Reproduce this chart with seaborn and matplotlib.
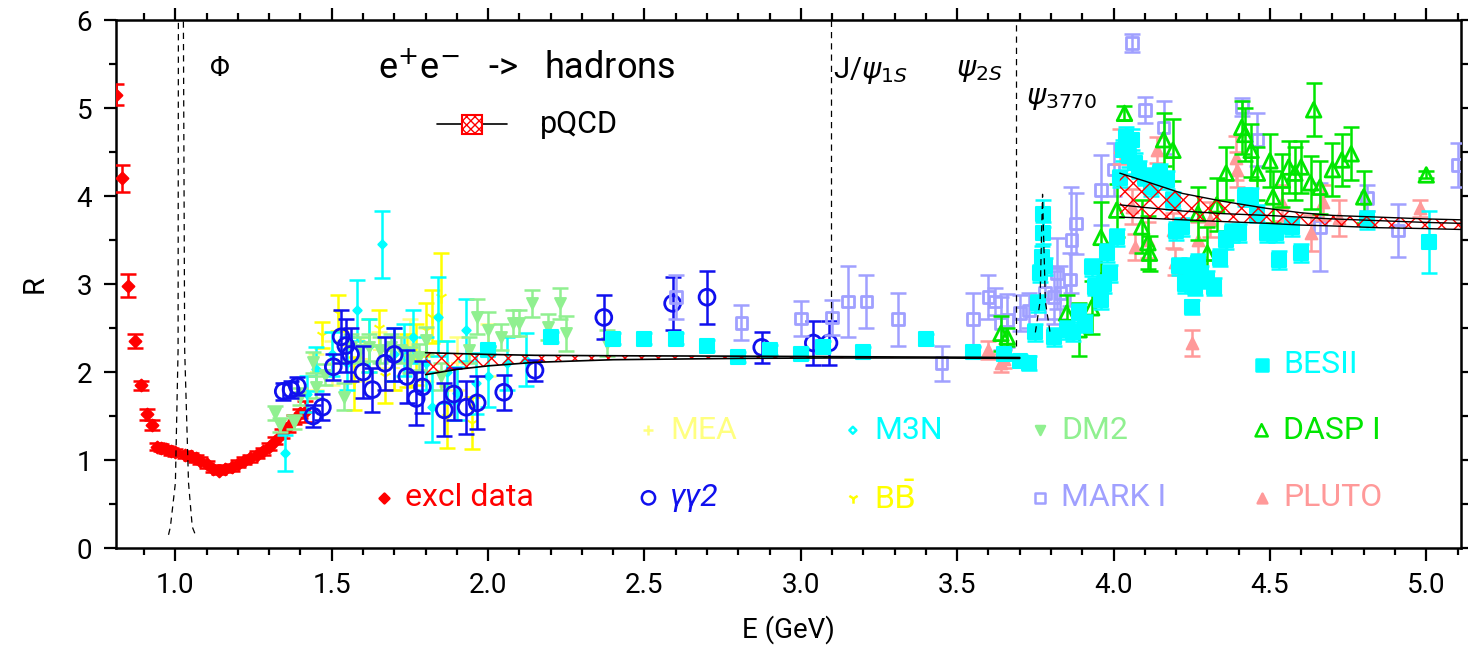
import matplotlib
matplotlib.use('Agg')
import matplotlib.pyplot as plt
from matplotlib.patches import Rectangle
import numpy as np
import pandas as pd
import seaborn as sns

# ---- data: (E [GeV], R, error) ----
excl_E = [0.81, 0.83, 0.85, 0.87, 0.89, 0.91, 0.925, 0.94, 0.955, 0.97, 0.985, 1.00, 1.03, 1.05,
          1.065, 1.08, 1.10, 1.12, 1.14, 1.16, 1.18, 1.20, 1.22, 1.24, 1.26, 1.28, 1.30, 1.32,
          1.34, 1.36, 1.38, 1.40, 1.415]
excl_R = [5.15, 4.20, 2.98, 2.35, 1.85, 1.52, 1.40, 1.15, 1.14, 1.12, 1.10, 1.09, 1.06, 1.04,
          1.02, 0.99, 0.95, 0.90, 0.88, 0.90, 0.92, 0.96, 0.99, 1.02, 1.06, 1.10, 1.15, 1.22,
          1.30, 1.37, 1.46, 1.53, 1.55]
excl_err = [0.12, 0.15, 0.13, 0.08, 0.05, 0.06, 0.06, 0.04, 0.04, 0.04, 0.04, 0.04, 0.04, 0.04,
            0.04, 0.04, 0.04, 0.04, 0.04, 0.04, 0.04, 0.04, 0.04, 0.04, 0.04, 0.04, 0.04, 0.04,
            0.05, 0.05, 0.05, 0.05, 0.12]

gg2_E = [1.345, 1.37, 1.39, 1.44, 1.47, 1.505, 1.53, 1.545, 1.56, 1.60, 1.63, 1.67, 1.70, 1.74,
         1.77, 1.79, 1.86, 1.89, 1.93, 1.965, 2.05, 2.15, 2.37, 2.59, 2.70, 2.875, 3.04, 3.09]
gg2_R = [1.78, 1.80, 1.84, 1.50, 1.60, 2.06, 2.40, 2.30, 2.20, 2.00, 1.80, 2.10, 2.20, 1.95,
         1.70, 1.83, 1.57, 1.75, 1.60, 1.65, 1.77, 2.02, 2.62, 2.78, 2.85, 2.28, 2.33, 2.33]
gg2_err = [0.10, 0.10, 0.10, 0.12, 0.15, 0.15, 0.30, 0.30, 0.30, 0.30, 0.25, 0.30, 0.30, 0.30,
           0.30, 0.30, 0.30, 0.30, 0.30, 0.30, 0.20, 0.12, 0.25, 0.30, 0.30, 0.18, 0.25, 0.25]

mea_E = [1.45, 1.50, 1.55, 1.60, 1.65, 1.70, 1.75, 1.80, 1.90, 2.00]
mea_R = [2.00, 2.10, 2.30, 2.15, 2.25, 2.05, 2.30, 2.20, 2.10, 2.25]
mea_err = [0.20, 0.25, 0.20, 0.25, 0.20, 0.25, 0.30, 0.30, 0.30, 0.30]

m3n_E = [1.35, 1.42, 1.45, 1.50, 1.55, 1.58, 1.62, 1.66, 1.70, 1.73, 1.76, 1.80, 1.82, 1.84,
         1.87, 1.90, 1.93, 1.96, 2.00, 2.06, 2.12]
m3n_R = [1.08, 1.75, 2.04, 2.20, 2.10, 2.70, 2.30, 3.45, 2.20, 2.25, 2.40, 2.10, 1.60, 2.63,
         2.00, 1.76, 2.48, 1.87, 1.95, 2.10, 2.14]
m3n_err = [0.20, 0.20, 0.25, 0.25, 0.30, 0.35, 0.30, 0.38, 0.30, 0.30, 0.30, 0.30, 0.40, 0.45,
           0.35, 0.30, 0.35, 0.35, 0.35, 0.30, 0.30]

bb_E = [1.47, 1.52, 1.57, 1.62, 1.65, 1.67, 1.70, 1.74, 1.77, 1.80, 1.82, 1.85, 1.87, 1.95]
bb_R = [2.42, 2.67, 1.87, 2.30, 2.50, 1.95, 2.10, 2.13, 2.20, 2.48, 2.63, 2.85, 1.49, 1.42]
bb_err = [0.15, 0.20, 0.30, 0.30, 0.20, 0.30, 0.30, 0.30, 0.35, 0.30, 0.30, 0.50, 0.35, 0.30]

dm2_E = [1.32, 1.335, 1.38, 1.40, 1.44, 1.45, 1.48, 1.54, 1.56, 1.59, 1.62, 1.655, 1.69, 1.72,
         1.75, 1.78, 1.80, 1.85, 1.94, 1.965, 2.00, 2.04, 2.08, 2.10, 2.14, 2.19, 2.23, 2.25, 2.38]
dm2_R = [1.53, 1.40, 1.43, 1.72, 2.11, 1.83, 1.97, 1.72, 2.28, 2.25, 2.28, 2.25, 2.28, 2.25,
         2.14, 2.17, 2.36, 1.95, 2.25, 2.63, 2.48, 2.40, 2.56, 2.56, 2.78, 2.51, 2.78, 2.44, 2.33]
dm2_err = [0.08, 0.08, 0.08, 0.10, 0.12, 0.12, 0.12, 0.15, 0.15, 0.15, 0.15, 0.15, 0.15, 0.15,
           0.15, 0.15, 0.15, 0.15, 0.15, 0.20, 0.20, 0.15, 0.15, 0.15, 0.15, 0.15, 0.18, 0.20, 0.15]

mark_E = [2.60, 2.81, 3.00, 3.10, 3.15, 3.21, 3.31, 3.45, 3.55, 3.60, 3.62, 3.64, 3.66, 3.70,
          3.73, 3.78, 3.81, 3.82, 3.83, 3.86, 3.865, 3.88, 3.96, 4.00, 4.06, 4.10, 4.16, 4.41,
          4.46, 4.66, 4.81, 4.91, 5.10]
mark_R = [2.85, 2.56, 2.61, 2.62, 2.80, 2.80, 2.60, 2.10, 2.60, 2.85, 2.80, 2.55, 2.59, 2.67,
          2.70, 2.90, 2.85, 3.12, 2.90, 3.05, 3.50, 3.69, 4.07, 4.30, 5.74, 4.98, 4.78, 5.01,
          4.64, 3.65, 3.98, 3.61, 4.35]
mark_err = [0.25, 0.20, 0.20, 0.20, 0.40, 0.30, 0.30, 0.20, 0.30, 0.25, 0.15, 0.30, 0.30, 0.20,
            0.20, 0.30, 0.30, 0.40, 0.30, 0.30, 0.60, 0.35, 0.40, 0.30, 0.10, 0.15, 0.30, 0.10,
            0.30, 0.50, 0.15, 0.30, 0.25]

pluto_E = [3.60, 3.64, 3.65, 4.02, 4.06, 4.07, 4.11, 4.14, 4.19, 4.195, 4.25, 4.27, 4.31, 4.39,
           4.395, 4.54, 4.63, 4.67, 4.72, 4.98]
pluto_R = [2.25, 2.10, 2.15, 4.56, 3.88, 3.42, 3.50, 4.52, 3.61, 3.25, 2.33, 3.50, 3.73, 4.43,
           4.30, 3.92, 3.58, 3.93, 3.75, 3.86]
pluto_err = [0.10, 0.10, 0.10, 0.20, 0.20, 0.15, 0.20, 0.15, 0.20, 0.15, 0.15, 0.20, 0.20, 0.25,
             0.20, 0.20, 0.20, 0.20, 0.20, 0.10]

dasp_E = [3.64, 3.66, 3.85, 3.89, 3.93, 3.96, 4.01, 4.035, 4.09, 4.11, 4.115, 4.16, 4.19, 4.27,
          4.30, 4.33, 4.36, 4.41, 4.42, 4.44, 4.46, 4.50, 4.51, 4.54, 4.56, 4.58, 4.60, 4.63,
          4.64, 4.66, 4.70, 4.73, 4.76, 4.80, 5.00]
dasp_R = [2.44, 2.40, 2.67, 2.48, 2.73, 3.53, 3.84, 4.94, 3.65, 3.47, 3.35, 4.64, 4.52, 3.80,
          3.35, 3.90, 4.26, 4.78, 4.70, 4.52, 4.26, 4.40, 3.99, 4.18, 4.33, 4.26, 4.33, 4.15,
          4.98, 4.10, 4.30, 4.41, 4.48, 3.99, 4.24]
dasp_err = [0.20, 0.10, 0.20, 0.30, 0.30, 0.40, 0.30, 0.08, 0.30, 0.30, 0.20, 0.30, 0.35, 0.30,
            0.30, 0.30, 0.30, 0.30, 0.30, 0.30, 0.30, 0.30, 0.30, 0.30, 0.30, 0.30, 0.30, 0.30,
            0.30, 0.30, 0.30, 0.30, 0.30, 0.30, 0.04]

bes_E = [2.00, 2.20, 2.40, 2.50, 2.60, 2.70, 2.80, 2.90, 3.00, 3.07, 3.20, 3.40, 3.55, 3.65,
         3.70, 3.73, 3.75, 3.76, 3.765, 3.77, 3.773, 3.775, 3.78, 3.81, 3.85, 3.87, 3.89, 3.91,
         3.93, 3.94, 3.96, 3.97, 3.98, 3.99, 4.01, 4.02, 4.03, 4.04, 4.05, 4.06, 4.07, 4.08,
         4.10, 4.12, 4.15, 4.17, 4.19, 4.20, 4.21, 4.22, 4.23, 4.24, 4.25, 4.255, 4.26, 4.27,
         4.28, 4.30, 4.32, 4.34, 4.36, 4.38, 4.40, 4.42, 4.44, 4.46, 4.49, 4.52, 4.53, 4.57,
         4.60, 4.81, 5.01]
bes_R = [2.25, 2.40, 2.38, 2.38, 2.38, 2.30, 2.17, 2.25, 2.21, 2.29, 2.23, 2.37, 2.23, 2.20,
         2.13, 2.10, 2.45, 2.78, 3.12, 3.31, 3.58, 3.80, 3.20, 2.40, 2.48, 2.45, 2.67, 2.55,
         3.19, 2.97, 2.82, 3.00, 3.35, 3.12, 3.53, 4.20, 4.52, 4.67, 4.45, 4.64, 4.37, 4.30,
         4.22, 4.10, 4.26, 4.18, 3.95, 3.60, 3.20, 3.65, 3.00, 3.20, 2.74, 3.13, 2.97, 3.24,
         3.10, 3.05, 2.97, 3.30, 3.50, 3.58, 3.58, 3.99, 3.99, 3.80, 3.58, 3.58, 3.27, 3.65,
         3.35, 3.73, 3.48]
bes_err = [0.05, 0.06, 0.06, 0.06, 0.06, 0.06, 0.06, 0.06, 0.06, 0.06, 0.06, 0.06, 0.06, 0.06,
           0.06, 0.08, 0.10, 0.10, 0.10, 0.12, 0.12, 0.15, 0.10, 0.10, 0.10, 0.10, 0.10, 0.10,
           0.10, 0.10, 0.10, 0.10, 0.10, 0.10, 0.10, 0.10, 0.12, 0.12, 0.12, 0.12, 0.12, 0.10,
           0.10, 0.10, 0.10, 0.10, 0.10, 0.10, 0.10, 0.10, 0.10, 0.10, 0.08, 0.10, 0.10, 0.10,
           0.10, 0.10, 0.10, 0.10, 0.10, 0.10, 0.10, 0.10, 0.10, 0.10, 0.10, 0.10, 0.10, 0.10,
           0.10, 0.10, 0.35]

# pQCD band (upper / central / lower edges)
pqcd1_E = [1.80, 1.90, 2.00, 2.15, 2.40, 2.80, 3.10, 3.40, 3.70]
pqcd1_hi = [2.22, 2.21, 2.20, 2.19, 2.185, 2.18, 2.175, 2.17, 2.165]
pqcd1_lo = [1.97, 2.03, 2.07, 2.11, 2.14, 2.155, 2.16, 2.16, 2.155]
pqcd2_E = [4.02, 4.10, 4.22, 4.35, 4.49, 4.60, 4.70, 4.85, 5.00, 5.11]
pqcd2_hi = [4.26, 4.17, 4.03, 3.94, 3.86, 3.81, 3.78, 3.76, 3.74, 3.73]
pqcd2_mid = [3.90, 3.87, 3.83, 3.80, 3.78, 3.76, 3.74, 3.72, 3.70, 3.69]
pqcd2_lo = [3.76, 3.75, 3.73, 3.71, 3.69, 3.67, 3.66, 3.64, 3.63, 3.62]

# narrow resonance curves (dashed)
phi_E = [0.978, 0.984, 1.000, 1.0086, 1.0096, 1.0105, 1.0250, 1.0256, 1.0297, 1.042, 1.054, 1.064]
phi_R = [0.15, 0.24, 0.74, 2.25, 6.0, 7.0, 7.0, 6.0, 2.25, 0.74, 0.24, 0.15]
jpsi_E = [3.096, 3.096]
jpsi_R = [2.60, 7.0]
psi2s_E = [3.687, 3.687]
psi2s_R = [2.30, 7.0]
psi3770_E = [3.750, 3.765, 3.770, 3.773, 3.776, 3.782, 3.797]
psi3770_R = [2.45, 2.80, 3.60, 4.02, 3.60, 2.80, 2.45]

series = [
    # label, E, R, err, colour, marker, size, filled
    ('excl data', excl_E, excl_R, excl_err, '#ff0000', 'D', 36, True),
    ('MEA', mea_E, mea_R, mea_err, '#ffff80', '+', 70, True),
    ('B\u0305B', bb_E, bb_R, bb_err, '#ffff00', '1', 80, True),
    ('M3N', m3n_E, m3n_R, m3n_err, '#00ffff', 'D', 18, True),
    ('DM2', dm2_E, dm2_R, dm2_err, '#90f090', 'v', 60, True),
    ('\u03b3\u03b32', gg2_E, gg2_R, gg2_err, '#1010ee', 'o', 130, False),
    ('MARK I', mark_E, mark_R, mark_err, '#a0a0ff', 's', 70, False),
    ('PLUTO', pluto_E, pluto_R, pluto_err, '#ff9999', '^', 70, True),
    ('DASP I', dasp_E, dasp_R, dasp_err, '#00e600', '^', 110, False),
    ('BESII', bes_E, bes_R, bes_err, '#00ffff', 's', 95, True),
]

sns.set_style('ticks')
plt.rcParams['font.family'] = ['Roboto', 'DejaVu Sans']
plt.rcParams['mathtext.fontset'] = 'dejavusans'
plt.rcParams['hatch.linewidth'] = 1.0
plt.rcParams['text.color'] = 'black'
plt.rcParams['axes.labelcolor'] = 'black'
plt.rcParams['xtick.color'] = 'black'
plt.rcParams['ytick.color'] = 'black'
plt.rcParams['axes.edgecolor'] = 'black'

fig = plt.figure(figsize=(14.68, 6.47), dpi=100)
ax = fig.add_axes([0.079, 0.153, 0.916, 0.816])

for i, (label, E, R, err, col, mk, sz, filled) in enumerate(series):
    df = pd.DataFrame({'E': E, 'R': R, 'err': err})
    z = 3 + i
    ax.errorbar(df.E, df.R, yerr=df.err, fmt='none', ecolor=col, elinewidth=1.8,
                capsize=6, capthick=1.8, zorder=z)
    if filled:
        sns.scatterplot(data=df, x='E', y='R', ax=ax, marker=mk, s=sz, color=col,
                        edgecolor=col, linewidth=1.5, zorder=z + 0.5, legend=False)
    else:
        sns.scatterplot(data=df, x='E', y='R', ax=ax, marker=mk, s=sz, facecolor='none',
                        edgecolor=col, linewidth=2.0, zorder=z + 0.5, legend=False)

# pQCD bands
ax.fill_between(pqcd1_E, pqcd1_lo, pqcd1_hi, facecolor='none', edgecolor='red',
                hatch='xx', linewidth=0, zorder=20)
ax.plot(pqcd1_E, pqcd1_hi, color='black', lw=1.2, zorder=21)
ax.plot(pqcd1_E, pqcd1_lo, color='black', lw=1.2, zorder=21)
ax.fill_between(pqcd2_E, pqcd2_lo, pqcd2_hi, facecolor='none', edgecolor='red',
                hatch='xx', linewidth=0, zorder=20)
for edge in (pqcd2_hi, pqcd2_mid, pqcd2_lo):
    ax.plot(pqcd2_E, edge, color='black', lw=1.0, zorder=21)

# resonance curves
for E, R in ((phi_E, phi_R), (jpsi_E, jpsi_R), (psi2s_E, psi2s_R), (psi3770_E, psi3770_R)):
    ax.plot(E, R, color='black', lw=0.9, ls=(0, (5, 4)), zorder=22)

# axes, ticks
ax.set_xlim(0.81, 5.11)
ax.set_ylim(0, 6)
ax.set_xticks(np.arange(1.0, 5.01, 0.5))
ax.set_xticks(np.arange(0.9, 5.11, 0.1), minor=True)
ax.set_yticks(range(0, 7))
ax.set_yticks(np.arange(0.5, 6, 1.0), minor=True)
ax.set_xticklabels(['1.0', '1.5', '2.0', '2.5', '3.0', '3.5', '4.0', '4.5', '5.0'])
ax.tick_params(which='both', direction='out', top=True, right=True, width=1.6,
               labelsize=20, pad=8)
ax.tick_params(which='major', length=9)
ax.tick_params(which='minor', length=5)
for sp in ax.spines.values():
    sp.set_linewidth(1.8)
    sp.set_visible(True)
ax.set_xlabel('E (GeV)', fontsize=20, labelpad=12)
ax.set_ylabel('R', fontsize=21, labelpad=20)

# annotations
ax.text(0.070, 0.909, '\u03a6', transform=ax.transAxes, fontsize=20, va='center')
ax.text(0.195, 0.909, 'e$^{+}$e$^{-}$   ->   hadrons', transform=ax.transAxes,
        fontsize=26, va='center')
ax.text(0.533, 0.905, 'J/$\\psi_{1S}$', transform=ax.transAxes, fontsize=21, va='center')
ax.text(0.625, 0.905, '$\\psi_{2S}$', transform=ax.transAxes, fontsize=21, va='center')
ax.text(0.677, 0.852, '$\\psi_{3770}$', transform=ax.transAxes, fontsize=21, va='center')

# pQCD key
ax.plot([0.239, 0.291], [0.803, 0.803], transform=ax.transAxes, color='black', lw=1.2,
        zorder=30)
ax.add_patch(Rectangle((0.2575, 0.785), 0.015, 0.036, transform=ax.transAxes,
                       facecolor='white', edgecolor='red', hatch='xxxx', lw=1.5, zorder=31))
ax.text(0.315, 0.803, 'pQCD', transform=ax.transAxes, fontsize=22, va='center')

# data legend grid
key_pos = {
    'BESII': (0.852, 0.347), 'MEA': (0.396, 0.223), 'M3N': (0.548, 0.223),
    'DM2': (0.687, 0.223), 'DASP I': (0.852, 0.223), 'excl data': (0.199, 0.095),
    '\u03b3\u03b32': (0.396, 0.095), 'B\u0305B': (0.548, 0.095), 'MARK I': (0.687, 0.095),
    'PLUTO': (0.852, 0.095),
}
for label, E, R, err, col, mk, sz, filled in series:
    kx, ky = key_pos[label]
    open_key = (not filled) or label == 'M3N'
    ax.scatter([kx], [ky], transform=ax.transAxes, marker=mk, s=sz * 0.7,
               facecolor='none' if open_key else col, edgecolor=col, linewidth=1.8,
               zorder=30)
    txt = label
    style = 'italic' if label.startswith('\u03b3') else 'normal'
    if label == 'B\u0305B':
        txt = 'B$\\bar{\\mathrm{B}}$'
    ax.text(kx + 0.016, ky, txt, transform=ax.transAxes, color=col, fontsize=23,
            va='center', style=style)

fig.savefig('out.png', dpi=100)
